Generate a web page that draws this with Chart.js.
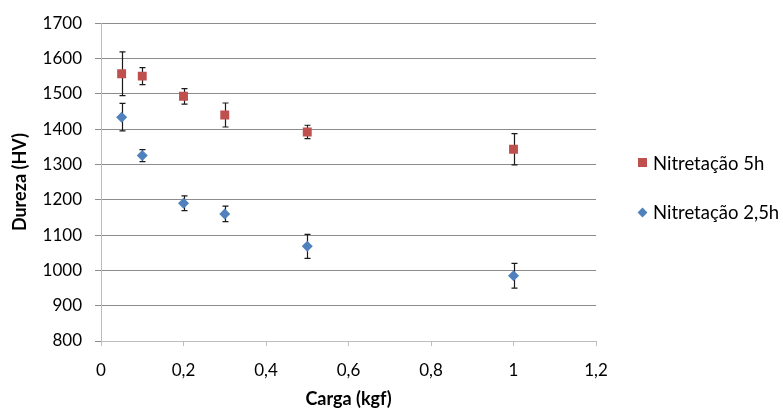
<!DOCTYPE html>
<html lang="pt-BR">
<head>
  <meta charset="UTF-8" />
  <title>Dureza x Carga</title>
  <script src="https://cdn.jsdelivr.net/npm/chart.js"></script>
  <style>
    body {
      margin: 0;
      background-color: white;
      font-family: Lato, sans-serif;
    }
    #grafico-container {
      position: relative;
      width: 783px;
      height: 410px;
    }
    .legenda {
      position: absolute;
      left: 653px;
      font-size: 18.5px;
      color: #000;
      line-height: 20px;
      white-space: nowrap;
    }
    .marca {
      position: absolute;
    }
  </style>
</head>
<body>
  <div id="grafico-container">
    <canvas id="graficoDureza" width="783" height="410"></canvas>
    <div id="legenda"></div>
  </div>
  <script>
    // dados
    const cargas = [0.05, 0.1, 0.2, 0.3, 0.5, 1];
    const dureza5h = [1557, 1550, 1493, 1440, 1392, 1343];
    const erro5h = [62, 24, 22, 34, 19, 44];
    const dureza25h = [1434, 1325, 1190, 1160, 1068, 985];
    const erro25h = [39, 17, 21, 22, 34, 35];
    const nomesSeries = ['Nitretação 5h', 'Nitretação 2,5h'];
    const rotulosX = ['0', '0,2', '0,4', '0,6', '0,8', '1', '1,2'];
    const rotulosY = ['800', '900', '1000', '1100', '1200', '1300', '1400', '1500', '1600', '1700'];

    const vermelho = '#C0504D';
    const azul = '#4F81BD';

    // barras de erro desenhadas pelas escalas do gráfico
    const barrasErro = {
      id: 'barrasErro',
      beforeDatasetsDraw(chart) {
        const { ctx, scales: { x, y } } = chart;
        ctx.save();
        ctx.strokeStyle = '#1a1a1a';
        ctx.lineWidth = 1.2;
        chart.data.datasets.forEach(ds => {
          ds.data.forEach((p, i) => {
            const px = Math.round(x.getPixelForValue(p.x)) + 0.5;
            const yTop = y.getPixelForValue(p.y + ds.erros[i]);
            const yBot = y.getPixelForValue(p.y - ds.erros[i]);
            ctx.beginPath();
            ctx.moveTo(px, yTop);
            ctx.lineTo(px, yBot);
            ctx.moveTo(px - 3, yTop);
            ctx.lineTo(px + 3, yTop);
            ctx.moveTo(px - 3, yBot);
            ctx.lineTo(px + 3, yBot);
            ctx.stroke();
          });
        });
        ctx.restore();
      }
    };

    const fonteTicks = { family: 'Lato', size: 17 };
    const fonteTitulo = { family: 'Lato', size: 18, weight: 'bold' };

    new Chart(document.getElementById('graficoDureza'), {
      type: 'scatter',
      data: {
        datasets: [
          {
            label: nomesSeries[0],
            data: cargas.map((c, i) => ({ x: c, y: dureza5h[i] })),
            erros: erro5h,
            pointStyle: 'rect',
            pointRadius: 6.3,
            backgroundColor: vermelho,
            borderColor: vermelho,
            borderWidth: 0
          },
          {
            label: nomesSeries[1],
            data: cargas.map((c, i) => ({ x: c, y: dureza25h[i] })),
            erros: erro25h,
            pointStyle: 'rectRot',
            pointRadius: 5.5,
            backgroundColor: azul,
            borderColor: azul,
            borderWidth: 0
          }
        ]
      },
      options: {
        responsive: false,
        animation: false,
        layout: { padding: { left: 0, right: 187, top: 20, bottom: 0 } },
        plugins: {
          legend: { display: false },
          tooltip: { enabled: false }
        },
        scales: {
          x: {
            type: 'linear',
            min: 0,
            max: 1.2,
            ticks: {
              stepSize: 0.2,
              color: '#000',
              font: fonteTicks,
              padding: 14,
              maxRotation: 0,
              callback: (v, i) => rotulosX[i]
            },
            grid: { drawOnChartArea: false, tickLength: 5, color: '#bdbdbd' },
            border: { color: '#bdbdbd' },
            title: { display: true, text: 'Carga (kgf)', color: '#000', font: fonteTitulo, padding: { top: 0, bottom: 0 } },
            afterFit: s => { s.height = 69; }
          },
          y: {
            min: 800,
            max: 1700,
            ticks: {
              stepSize: 100,
              color: '#000',
              font: fonteTicks,
              padding: 13,
              callback: (v, i) => rotulosY[i]
            },
            grid: { tickLength: 6, color: '#8c8c8c' },
            border: { color: '#bdbdbd' },
            title: { display: true, text: 'Dureza (HV)', color: '#000', font: fonteTitulo, padding: { top: 9, bottom: 0 } },
            afterFit: s => { s.width = 101; }
          }
        }
      },
      plugins: [barrasErro]
    });

    // legenda à direita
    const legenda = document.getElementById('legenda');
    const linhasLegenda = [
      { nome: nomesSeries[0], cor: vermelho, forma: 'quadrado', y: 163 },
      { nome: nomesSeries[1], cor: azul, forma: 'losango', y: 212 }
    ];
    linhasLegenda.forEach(l => {
      const marca = document.createElement('div');
      marca.className = 'marca';
      if (l.forma === 'quadrado') {
        marca.style.cssText = `left:638px;top:${l.y - 5}px;width:9px;height:9px;background:${l.cor}`;
      } else {
        marca.style.cssText = `left:639px;top:${l.y - 3.5}px;width:7px;height:7px;background:${l.cor};transform:rotate(45deg)`;
      }
      legenda.appendChild(marca);
      const texto = document.createElement('div');
      texto.className = 'legenda';
      texto.style.top = (l.y - 10) + 'px';
      texto.textContent = l.nome;
      legenda.appendChild(texto);
    });
  </script>
</body>
</html>
